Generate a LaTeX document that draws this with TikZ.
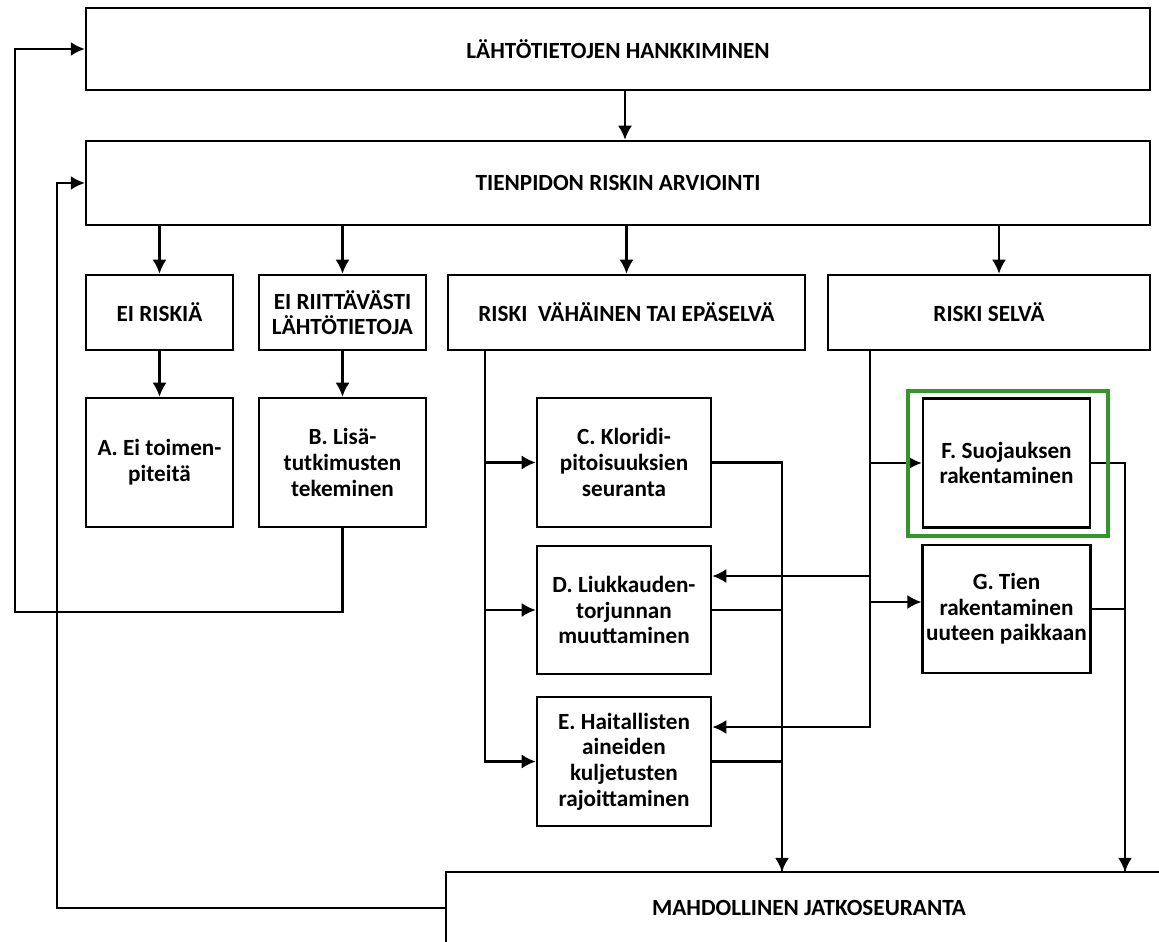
\documentclass[tikz,border=0pt]{standalone}
\usepackage{fontspec}
\setmainfont{Carlito}
\usetikzlibrary{arrows.meta, positioning}
\definecolor{vihrea}{RGB}{52,150,42}

\tikzset{
	laatikko/.style={draw, align=center, inner sep=2pt,
		font=\bfseries\fontsize{13.2}{14.6}\selectfont},
}

\begin{document}
\begin{tikzpicture}[x=0.02cm, y=-0.02cm, >={Latex[length=8pt,width=8pt]}, line width=1.4pt]
			\useasboundingbox (0,0) rectangle (1159,942);
			\clip (0,0) rectangle (1159,942);
			% ylarivit
			\node[laatikko, minimum width=21.28cm, minimum height=1.64cm] (lahto) at (618,49) {LÄHTÖTIETOJEN HANKKIMINEN};
			\node[laatikko, minimum width=21.28cm, minimum height=1.68cm] (arvio) at (618,183) {TIENPIDON RISKIN ARVIOINTI};
			\node[laatikko, minimum width=2.94cm, minimum height=1.5cm] (eiriski) at (159.5,312.5) {EI RISKIÄ};
			\node[laatikko, minimum width=3.34cm, minimum height=1.5cm] (eitieto) at (342.5,312.5) {EI RIITTÄVÄSTI\\LÄHTÖTIETOJA};
			\node[laatikko, minimum width=7.14cm, minimum height=1.5cm] (vahainen) at (626.5,312.5) {RISKI\ \ VÄHÄINEN TAI EPÄSELVÄ};
			\node[laatikko, minimum width=6.44cm, minimum height=1.5cm] (selva) at (989,312.5) {RISKI SELVÄ};
			% toimenpiteet
			\node[laatikko, minimum width=2.94cm, minimum height=2.58cm] (A) at (159.5,462.5) {A. Ei toimen-\\piteitä};
			\node[laatikko, minimum width=3.34cm, minimum height=2.58cm] (B) at (342.5,462.5) {B. Lisä-\\tutkimusten\\tekeminen};
			\node[laatikko, minimum width=3.48cm, minimum height=2.58cm] (C) at (624,462.5) {C. Kloridi-\\pitoisuuksien\\seuranta};
			\node[laatikko, minimum width=3.48cm, minimum height=2.56cm] (D) at (624,610) {D. Liukkauden-\\torjunnan\\muuttaminen};
			\node[laatikko, minimum width=3.48cm, minimum height=2.58cm] (E) at (624,761.5) {E. Haitallisten\\aineiden\\kuljetusten\\rajoittaminen};
			\node[laatikko, minimum width=3.34cm, minimum height=2.58cm] (F) at (1006.5,463) {F. Suojauksen\\rakentaminen};
			\node[laatikko, minimum width=3.34cm, minimum height=2.56cm] (G) at (1006.5,609) {G. Tien\\rakentaminen\\uuteen paikkaan};
			\node[laatikko, minimum width=14.52cm, minimum height=1.44cm] (jatko) at (809,908) {MAHDOLLINEN JATKOSEURANTA};
			
			\coordinate (ulko) at (15,612);
			\coordinate (sisa) at (57,908);
			\coordinate (vas) at (485,350);
			\coordinate (oik) at (870,350);
			\coordinate (kesk) at (782,872);
			\coordinate (reuna) at (1125,872);
			
			\draw[->] ([xshift=0.14cm]lahto.south) -- ([xshift=0.14cm]lahto.south |- arvio.north);
			\draw[->] (arvio.south -| eiriski) -- (eiriski);
			\draw[->] (arvio.south -| eitieto) -- (eitieto);
			\draw[->] (arvio.south -| vahainen) -- (vahainen);
			\draw[->] ([xshift=0.2cm]arvio.south -| selva) -- ([xshift=0.2cm]selva.north);
			\draw[->] (eiriski) -- (A);
			\draw[->] (eitieto) -- (B);
			% paluut alkuun
			\draw[->] (B.south) |- (ulko) |- (lahto);
			\draw[->] (jatko.west) -- (sisa) |- (arvio);
			% riski vahainen
			\draw[->] (vas) |- (C);
			\draw[->] (vas) |- (D);
			\draw[->] (vas) |- (E);
			% riski selva
			\draw[->] (oik) |- (F);
			\draw[->] (oik) |- ([yshift=0.68cm]D.east);
			\draw[->] (oik) |- ([yshift=0.14cm]G.west);
			\draw[->] (oik) |- ([yshift=0.69cm]E.east);
			% jatkoseurantaan
			\draw[->] (C) -| (kesk);
			\draw (D) -| (kesk);
			\draw (E) -| (kesk);
			\draw[->] (F) -| (reuna);
			\draw (G) -| (reuna);
			
			\node[draw=vihrea, line width=2.4pt, minimum width=4cm, minimum height=2.9cm] (korostus) at (1008,463.5) {};
		\end{tikzpicture}
\end{document}
